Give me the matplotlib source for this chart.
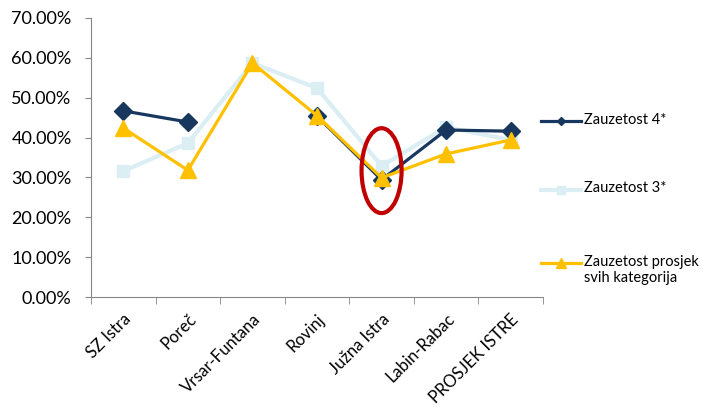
import numpy as np
import matplotlib
matplotlib.use("Agg")
import matplotlib.pyplot as plt
from matplotlib.lines import Line2D
from matplotlib.patches import Ellipse
from matplotlib.ticker import PercentFormatter, FixedLocator

plt.rcParams['font.family'] = ['Lato', 'DejaVu Sans']

regions = ["SZ Istra", "Poreč", "Vrsar-Funtana", "Rovinj", "Južna Istra", "Labin-Rabac", "PROSJEK ISTRE"]
occ_4star = [0.467, 0.439, np.nan, 0.454, 0.294, 0.419, 0.416]
occ_3star = [0.316, 0.386, 0.587, 0.524, 0.329, 0.426, 0.394]
occ_avg = [0.424, 0.318, 0.587, 0.455, 0.299, 0.359, 0.394]

x = np.arange(len(regions))

fig = plt.figure(figsize=(7.03, 4.07), dpi=100)
ax = fig.add_axes([91 / 703, 1 - 297 / 407, 452 / 703, 279 / 407])

l3, = ax.plot(x, occ_3star, color="#DAEEF3", lw=3, marker="s", ms=9, label="Zauzetost 3*")
l4, = ax.plot(x, occ_4star, color="#17375E", lw=2.3, marker="D", ms=9, label="Zauzetost 4*")
la, = ax.plot(x, occ_avg, color="#FFC000", lw=2.3, marker="^", ms=11, label="Zauzetost prosjek\nsvih kategorija")

# highlight Južna Istra
ax.add_patch(Ellipse((4, 0.317), 0.62, 0.213, fill=False, ec="#C00000", lw=3, zorder=5))

ax.set_xlim(-0.5, len(regions) - 0.5)
ax.set_ylim(0, 0.7)
ax.yaxis.set_major_locator(FixedLocator(np.arange(0, 0.71, 0.1)))
ax.yaxis.set_major_formatter(PercentFormatter(1, decimals=2))
ax.set_xticks(x)
ax.set_xticklabels(regions, rotation=45, ha="right", rotation_mode="anchor")
ax.set_xticks(np.arange(-0.5, len(regions), 1), minor=True)
ax.tick_params(axis="x", which="major", length=0, pad=10, labelsize=12)
ax.tick_params(axis="x", which="minor", length=5, color="#868686")
ax.tick_params(axis="y", length=4, color="#868686", labelsize=13, pad=10)

for side in ["top", "right"]:
    ax.spines[side].set_visible(False)
for side in ["left", "bottom"]:
    ax.spines[side].set_color("#868686")
    ax.spines[side].set_clip_on(False)

# legend on the right, handle aligned with the first text line
legend_rows = [(l4, 0.631, 4.5), (l3, 0.384, 5.5), (la, 0.122, 6.5)]
for line, ypos, msize in legend_rows:
    ax.add_line(Line2D([0.9956, 1.084], [ypos, ypos], transform=ax.transAxes,
                       color=line.get_color(), lw=line.get_linewidth(),
                       clip_on=False))
    ax.add_line(Line2D([1.04], [ypos], transform=ax.transAxes, color=line.get_color(),
                       marker=line.get_marker(), ms=msize, clip_on=False))
    ax.text(1.091, ypos + 0.03, line.get_label(), transform=ax.transAxes,
            fontsize=10.5, va="top", ha="left", linespacing=1.2)

fig.savefig("out.png", dpi=100)
